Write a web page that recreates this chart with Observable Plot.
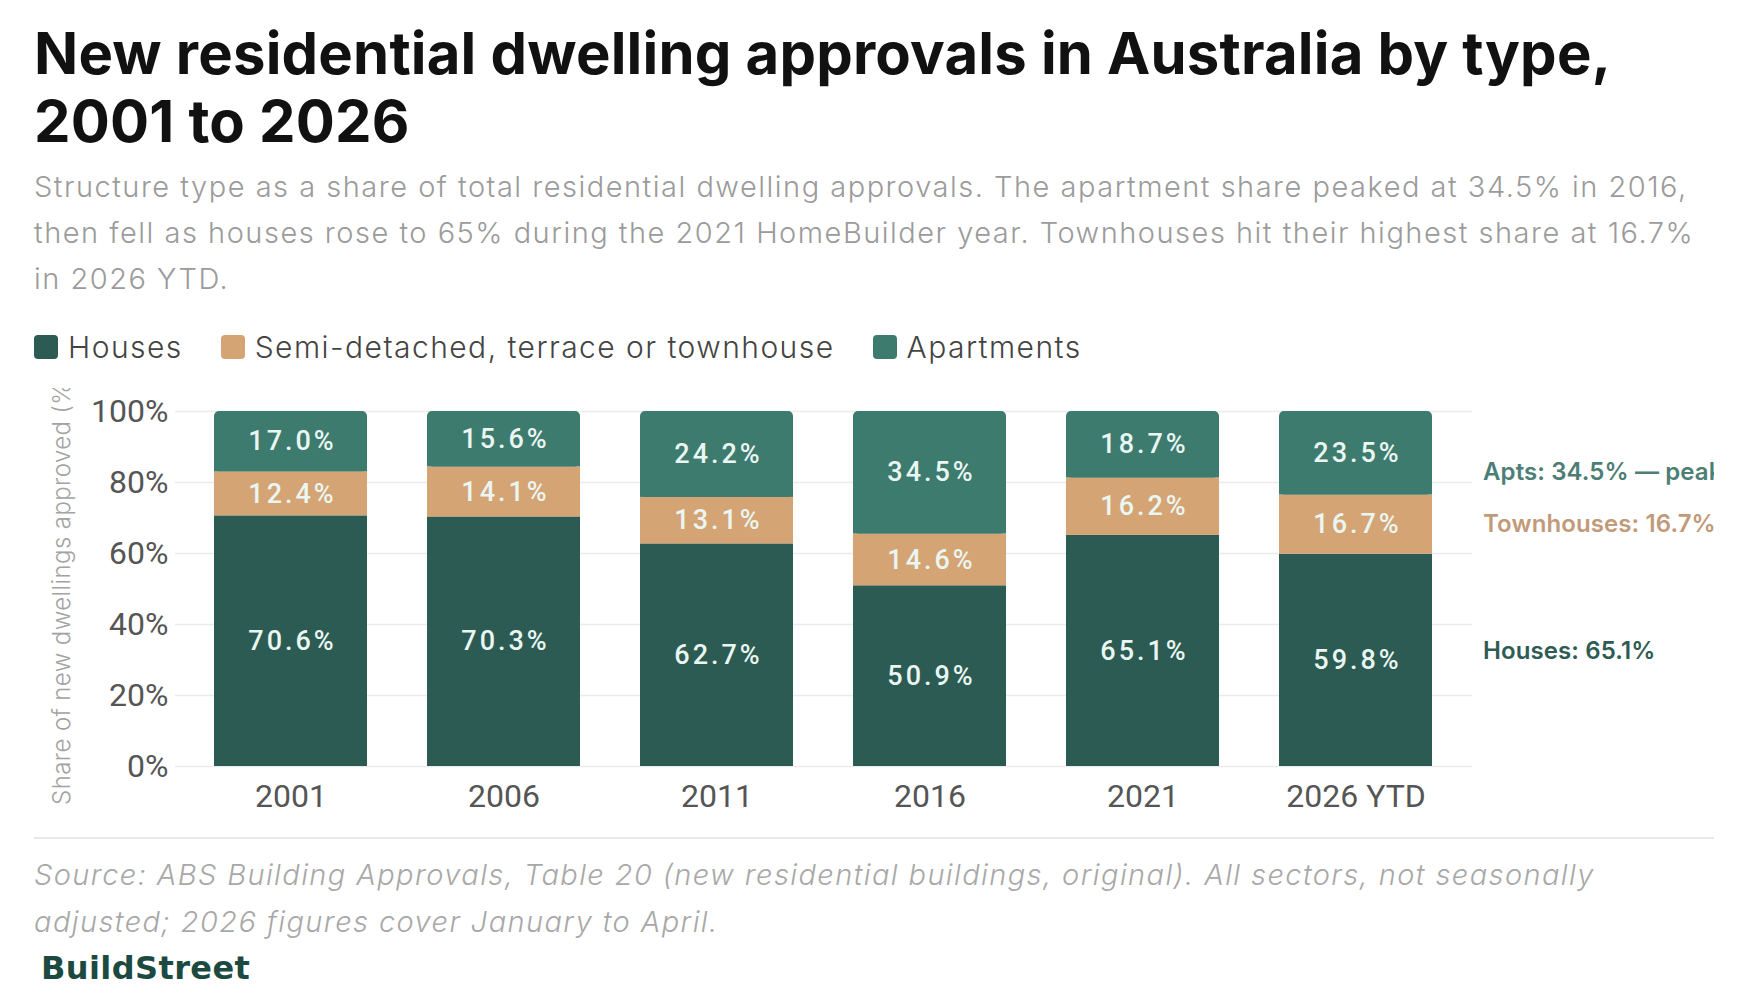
<!DOCTYPE html>
<html>
<head>
<meta charset="utf-8">
<script src="https://cdn.jsdelivr.net/npm/d3@7"></script>
<script src="https://cdn.jsdelivr.net/npm/@observablehq/plot@0.6"></script>
<style>
  html, body { margin: 0; padding: 0; background: #fff; }
  body { width: 1760px; height: 1000px; overflow: hidden; font-family: Inter, "Noto Sans", sans-serif; }
  #wrap { position: relative; margin-left: 34px; width: 1680px; }
  h1 { margin: 19px 0 0 0; font: 700 58px/68px Inter, sans-serif; letter-spacing: 0.2px; color: #111; }
  .sub { margin: 9px 0 0 0; font: 300 29px/46px Inter, sans-serif; letter-spacing: 1.5px; color: #9b9b9b; }
  .legend { display: flex; align-items: center; margin-top: 27px; height: 36px; font: 300 30px/36px Inter, sans-serif; letter-spacing: 1.45px; color: #444; }
  .legend .item { display: flex; align-items: center; margin-right: 38px; }
  .legend .sw { width: 24px; height: 24px; border-radius: 4px; margin-right: 10px; }
  #chart { margin-top: 23px; height: 440px; }
  #chart svg { overflow: hidden; display: block; }
  .rule { margin-top: 9px; height: 2px; background: #e8e8e8; }
  .source { margin: 12px 0 0 0; font: italic 300 29px/47px Inter, sans-serif; letter-spacing: 1.4px; color: #a8a8a8; }
  .brand { margin-top: 5px; font: 700 32px/36px "DejaVu Sans", sans-serif; letter-spacing: 0.4px; color: #1c4a40; padding-left: 7px; }
</style>
</head>
<body>
<div id="wrap">
  <h1>New residential dwelling approvals in Australia by type,<br>2001 to 2026</h1>
  <p class="sub">Structure type as a share of total residential dwelling approvals. The apartment share peaked at 34.5% in 2016,<br>then fell as houses rose to 65% during the 2021 HomeBuilder year. Townhouses hit their highest share at 16.7%<br>in 2026 YTD.</p>
  <div class="legend" id="legend"></div>
  <div id="chart"></div>
  <div class="rule"></div>
  <p class="source">Source: ABS Building Approvals, Table 20 (new residential buildings, original). All sectors, not seasonally<br>adjusted; 2026 figures cover January to April.</p>
  <div class="brand">BuildStreet</div>
</div>
<script>
// Share of new residential dwelling approvals by structure type (%)
const years = ["2001", "2006", "2011", "2016", "2021", "2026 YTD"];
const types = ["Houses", "Semi-detached, terrace or townhouse", "Apartments"];
const houses = [70.6, 70.3, 62.7, 50.9, 65.1, 59.8];
const townhouses = [12.4, 14.1, 13.1, 14.6, 16.2, 16.7];
const apartments = [17.0, 15.6, 24.2, 34.5, 18.7, 23.5];
const yTicks = [0, 20, 40, 60, 80, 100];
const yTitle = "Share of new dwellings approved (%)";

// Callouts on the right: which segment each one describes
const callouts = [
  {type: "Apartments", year: "2016", prefix: "Apts", suffix: " — peak"},
  {type: "Semi-detached, terrace or townhouse", year: "2026 YTD", prefix: "Townhouses", suffix: ""},
  {type: "Houses", year: "2021", prefix: "Houses", suffix: ""}
];

// Styling
const fills = ["#2c5b53", "#d5a474", "#3e7b6f"];
const calloutFills = {"Apartments": "#4d7e76", "Semi-detached, terrace or townhouse": "#c29a79", "Houses": "#2f5b55"};

// Stack the three series per year, houses at the bottom
const series = [houses, townhouses, apartments];
const rows = [];
years.forEach((year, i) => {
  let base = 0;
  types.forEach((type, k) => {
    const value = series[k][i];
    rows.push({year, type, value, y1: base, y2: base + value, mid: base + value / 2});
    base += value;
  });
});
const lower = rows.filter(d => d.type !== "Apartments");
const upper = rows.filter(d => d.type === "Apartments");
const lastYear = years[years.length - 1];
const notes = callouts.map(c => {
  const r = rows.find(d => d.type === c.type && d.year === c.year);
  return {...c, mid: r.mid, label: `${c.prefix}: ${r.value.toFixed(1)}%${c.suffix}`};
});
const fmt = v => `${v.toFixed(1)}%`;

// Legend
const legend = document.getElementById("legend");
types.forEach((t, k) => {
  const item = document.createElement("div");
  item.className = "item";
  const sw = document.createElement("span");
  sw.className = "sw";
  sw.style.background = fills[k];
  const label = document.createElement("span");
  label.textContent = t;
  item.append(sw, label);
  legend.append(item);
});

const chart = Plot.plot({
  width: 1680,
  height: 440,
  marginLeft: 141,
  marginRight: 242,
  marginTop: 23,
  marginBottom: 62,
  style: {fontFamily: "Roboto, sans-serif", fontSize: "32px", color: "#555", background: "#fff", overflow: "hidden"},
  x: {domain: years, paddingInner: 0.28, paddingOuter: 0.18, label: null},
  y: {domain: [0, 100], label: null},
  color: {domain: types, range: fills},
  marks: [
    Plot.ruleY(yTicks, {stroke: "#ebebeb", strokeWidth: 1.5}),
    Plot.barY(lower, {x: "year", y1: "y1", y2: "y2", fill: "type"}),
    // apartments sit on top: rounded top corners, square bottom edge
    Plot.barY(upper, {x: "year", y1: "y1", y2: "y2", fill: "type", rx: 5}),
    Plot.barY(upper, {x: "year", y1: "y1", y2: "mid", fill: "type"}),
    Plot.text(rows, {x: "year", y: "mid", text: d => fmt(d.value), fill: "#eaf6f1", fontSize: 27, fontWeight: 500, fontFamily: "Roboto, sans-serif", dx: 1.5}),
    Plot.axisY({ticks: yTicks, tickFormat: d => `${d}%`, tickSize: 0, tickPadding: 7, label: null}),
    Plot.axisX({tickSize: 0, tickPadding: 18, label: null}),
    Plot.text([yTitle], {frameAnchor: "left", textAnchor: "middle", rotate: -90, dx: -113, fill: "#a3a3a3", fontSize: 24, fontWeight: 300, fontFamily: "Inter, sans-serif"}),
    ...notes.map(n => Plot.text([n], {x: () => lastYear, y: "mid", text: "label", textAnchor: "start", dx: 127, fill: calloutFills[n.type], fontSize: 24, fontWeight: 600, fontFamily: "Inter, sans-serif"}))
  ]
});

// letter spacing for the value labels, the axis title and the side notes
const valueTexts = new Set(rows.map(d => fmt(d.value)));
const noteTexts = new Set(notes.map(n => n.label));
d3.select(chart).selectAll("text").each(function() {
  const t = this.textContent;
  if (valueTexts.has(t)) this.style.letterSpacing = "3px";
  else if (t === yTitle) this.style.letterSpacing = "0.4px";
  else if (noteTexts.has(t)) this.style.letterSpacing = "0.1px";
});
document.getElementById("chart").append(chart);
</script>
</body>
</html>
